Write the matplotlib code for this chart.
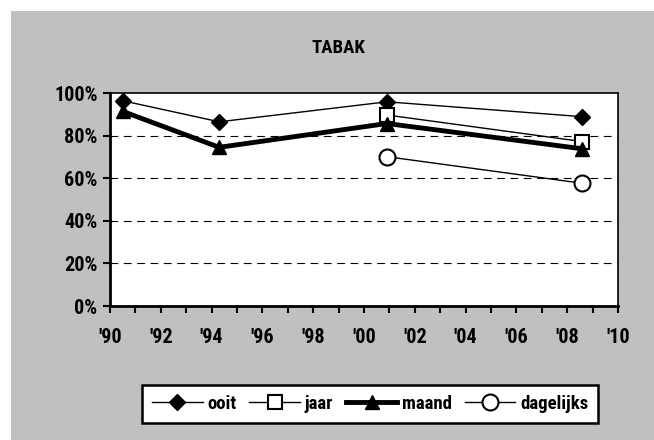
import matplotlib
matplotlib.use("Agg")
import matplotlib.pyplot as plt
from matplotlib import font_manager
from matplotlib.patches import Rectangle
from matplotlib.ticker import MultipleLocator, FuncFormatter

names = {f.name for f in font_manager.fontManager.ttflist}
font = 'DejaVu Sans'
for cand in ['Liberation Sans Narrow', 'Roboto Condensed', 'Open Sans Condensed']:
    if cand in names:
        font = cand
        break
plt.rcParams['font.family'] = [font, 'DejaVu Sans']
plt.rcParams['font.weight'] = 'bold'
plt.rcParams['font.stretch'] = 'condensed'

# data
years_all = [1990.5, 1994.3, 2000.9, 2008.6]
years_late = [2000.9, 2008.6]
ooit = [96.5, 86.6, 96.0, 89.0]
jaar = [89.8, 77.3]
maand = [91.5, 74.6, 85.8, 73.9]
dagelijks = [70.2, 57.7]

fig = plt.figure(figsize=(6.54, 4.4), dpi=100, facecolor='white')
bg = Rectangle((11 / 654, 0), 1, 1 - 11 / 440, transform=fig.transFigure,
               facecolor='#c0c0c0', edgecolor='none', zorder=-10)
fig.add_artist(bg)

ax = fig.add_axes([110 / 654, 1 - 306 / 440, 508 / 654, 212.7 / 440])
ax.set_facecolor('white')

ax.plot(years_all, ooit, color='black', lw=1, marker='D', ms=8.5, mfc='black', mec='black',
        label='ooit', zorder=4)
ax.plot(years_late, jaar, color='black', lw=1, marker='s', ms=10.5, mfc='white', mec='black',
        mew=1.5, label='jaar', zorder=4)
ax.plot(years_all, maand, color='black', lw=3.5, marker='^', ms=10.5, mfc='black', mec='black',
        label='maand', zorder=5)
ax.plot(years_late, dagelijks, color='black', lw=1, marker='o', ms=11.5, mfc='white', mec='black',
        mew=1.5, label='dagelijks', zorder=4)

ax.set_xlim(1990, 2010)
ax.set_ylim(0, 100)
ax.xaxis.set_major_locator(MultipleLocator(2))
ax.xaxis.set_minor_locator(MultipleLocator(1))
ax.xaxis.set_major_formatter(FuncFormatter(lambda v, p: "'%02d" % (int(round(v)) % 100)))
ax.yaxis.set_major_locator(MultipleLocator(20))
ax.yaxis.set_major_formatter(FuncFormatter(lambda v, p: '%d%%' % v))

for y in [20, 40, 60, 80]:
    ax.axhline(y, color='black', lw=0.8, ls=(0, (7, 5)), zorder=1)

for s in ['left', 'bottom']:
    ax.spines[s].set_linewidth(2)
for s in ['top', 'right']:
    ax.spines[s].set_linewidth(1.2)

ax.tick_params(axis='x', which='both', direction='out', length=5, width=1.5, labelsize=14.5, pad=11)
ax.tick_params(axis='y', direction='out', length=5, width=1.5, labelsize=14.5, pad=4)
for t in ax.get_xticklabels() + ax.get_yticklabels():
    t.set_fontweight('bold')

fig.text(338 / 654, 1 - 48 / 440, 'TABAK', ha='center', va='center', fontsize=13.5, fontweight='bold')

leg = fig.legend(loc='center', bbox_to_anchor=(370 / 654, 1 - 404 / 440), ncol=4,
                 frameon=True, fancybox=False, edgecolor='black', facecolor='white',
                 framealpha=1, fontsize=13.5, handlelength=2.7, columnspacing=0.7,
                 handletextpad=0.25, borderpad=0.55, borderaxespad=0)
leg.get_frame().set_linewidth(1.8)
for t in leg.get_texts():
    t.set_fontweight('bold')

fig.savefig('out.png', dpi=100)
